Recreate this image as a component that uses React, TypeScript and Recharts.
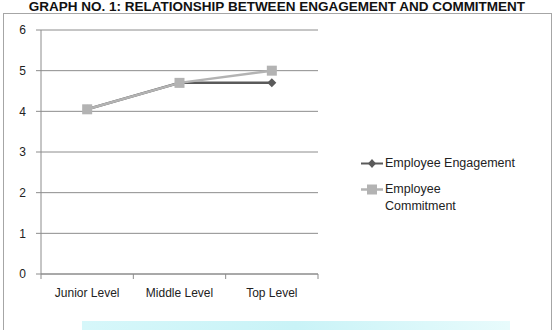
import React from 'react';
import {
  LineChart,
  Line,
  XAxis,
  YAxis,
  CartesianGrid,
} from 'recharts';

const levels = ['Junior Level', 'Middle Level', 'Top Level'];
const engagement = [4.05, 4.7, 4.7];
const commitment = [4.05, 4.7, 5.0];
const yTicks = [0, 1, 2, 3, 4, 5, 6];

const ENG_COLOR = '#5a5a5a';
const COM_COLOR = '#b3b3b3';
const AXIS_COLOR = '#8c8c8c';
const FONT = '"Liberation Sans", Arial, sans-serif';

// each category sits in the middle of its slot; slot edges get tick marks
const data = levels.map((level, i) => ({
  pos: i + 0.5,
  level,
  engagement: engagement[i],
  commitment: commitment[i],
}));
const xTicks = [0, ...levels.flatMap((_, i) => [i + 0.5, i + 1])];

const CategoryTick = (props: any) => {
  const { x, y, payload } = props;
  const v = payload.value;
  if (Number.isInteger(v)) {
    return <line x1={x} y1={y} x2={x} y2={y + 5} stroke={AXIS_COLOR} />;
  }
  return (
    <text x={x} y={y + 23} textAnchor="middle" fontFamily={FONT} fontSize={12} fill="#222">
      {levels[Math.floor(v)]}
    </text>
  );
};

const Diamond = (props: any) => {
  const { cx, cy, fill } = props;
  if (cx == null || cy == null) return null;
  return <path d={`M${cx},${cy - 4.5}L${cx + 4.5},${cy}L${cx},${cy + 4.5}L${cx - 4.5},${cy}Z`} fill={fill} />;
};

const Square = (props: any) => {
  const { cx, cy, fill } = props;
  if (cx == null || cy == null) return null;
  return <rect x={cx - 5} y={cy - 5} width={10} height={10} fill={fill} />;
};

const LegendBox = () => (
  <div style={{ fontFamily: FONT, fontSize: 12.5, color: '#222', lineHeight: '17px' }}>
    <div style={{ display: 'flex', alignItems: 'flex-start' }}>
      <svg width={22} height={17}>
        <line x1={0} y1={8.5} x2={22} y2={8.5} stroke={ENG_COLOR} strokeWidth={2} />
        <path d="M11,4L15,8.5L11,13L7,8.5Z" fill={ENG_COLOR} />
      </svg>
      <span style={{ marginLeft: 2 }}>Employee Engagement</span>
    </div>
    <div style={{ display: 'flex', alignItems: 'flex-start', marginTop: 9 }}>
      <svg width={22} height={17}>
        <line x1={0} y1={8.5} x2={22} y2={8.5} stroke={COM_COLOR} strokeWidth={2.5} />
        <rect x={6} y={3.5} width={10} height={10} fill={COM_COLOR} />
      </svg>
      <span style={{ marginLeft: 2 }}>
        Employee
        <br />
        Commitment
      </span>
    </div>
  </div>
);

export default function App() {
  return (
    <div style={{ position: 'absolute', left: 0, top: 0, width: 554, height: 330, overflow: 'hidden', background: '#fff' }}>
      <div
        style={{
          position: 'absolute',
          left: 82,
          top: 321,
          width: 428,
          height: 12,
          background: 'linear-gradient(90deg, #d6f7fa 0%, #c9f3f7 50%, #e8fbfc 100%)',
        }}
      />
      <div
        style={{
          position: 'absolute',
          left: 3,
          top: 13,
          width: 547,
          height: 330,
          border: '1px solid #a6a6a6',
        }}
      />
      <div
        style={{
          position: 'absolute',
          left: 0,
          top: 0,
          width: 554,
          textAlign: 'center',
          fontFamily: FONT,
          fontWeight: 'bold',
          fontSize: 13.5,
          lineHeight: '13px',
          color: '#111',
          whiteSpace: 'nowrap',
        }}
      >
        GRAPH NO. 1: RELATIONSHIP BETWEEN ENGAGEMENT AND COMMITMENT
      </div>
      <div style={{ position: 'absolute', left: 361, top: 155, width: 185 }}>
        <LegendBox />
      </div>
      <div style={{ position: 'absolute', left: 0, top: 0 }}>
        <LineChart width={554} height={330} data={data} margin={{ top: 30, right: 236, bottom: 26, left: 0 }}>
          <CartesianGrid horizontal vertical={false} stroke={AXIS_COLOR} />
          <XAxis
            dataKey="pos"
            type="number"
            domain={[0, 3]}
            ticks={xTicks}
            interval={0}
            stroke={AXIS_COLOR}
            tickLine={false}
            tickSize={0}
            tickMargin={0}
            height={30}
            tick={<CategoryTick />}
          />
          <YAxis
            domain={[0, 6]}
            ticks={yTicks}
            width={41}
            stroke={AXIS_COLOR}
            tickSize={5}
            tickMargin={10}
            tick={{ fontFamily: FONT, fontSize: 12, fill: '#222' }}
          />
          <Line
            dataKey="engagement"
            name="Employee Engagement"
            stroke={ENG_COLOR}
            strokeWidth={2.5}
            dot={<Diamond />}
            fill={ENG_COLOR}
            isAnimationActive={false}
          />
          <Line
            dataKey="commitment"
            name="Employee Commitment"
            stroke={COM_COLOR}
            strokeWidth={2.5}
            dot={<Square />}
            fill={COM_COLOR}
            isAnimationActive={false}
          />
        </LineChart>
      </div>
    </div>
  );
}
